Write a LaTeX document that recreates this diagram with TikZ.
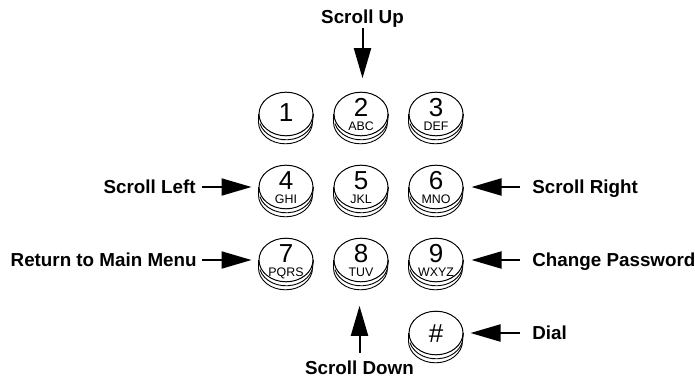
\documentclass[tikz,border=0pt]{standalone}
\usepackage{fontspec}
\setmainfont{Liberation Sans}
\usetikzlibrary{shapes.geometric,arrows.meta,positioning}

\tikzset{
  keycap/.style={ellipse, draw, line width=0.5pt, minimum width=27pt, minimum height=21.8pt, inner sep=0pt},
  keyrim/.style={line width=0.45pt},
  keynum/.style={inner sep=0pt, text height=9.2pt, text depth=0pt, font=\fontsize{13}{13}\selectfont},
  keyabc/.style={inner sep=0pt, text height=4.4pt, text depth=0pt, font=\fontsize{6.2}{6.2}\selectfont},
  callout/.style={inner sep=0pt, text height=6.7pt, text depth=0pt, font=\fontsize{9.4}{11}\selectfont\bfseries},
  pointer/.style={line width=1pt, -{Triangle[length=15pt,width=8.5pt]}}
}

\begin{document}
\begin{tikzpicture}[x=0.5pt,y=0.5pt]
\useasboundingbox (0,0) rectangle (695,377);

% keypad
\node[keycap] (k1) at (286,263) {};
\node[keynum] (n1) at ([yshift=1pt]k1.center) {1};
\foreach \k/\x/\y/\abc in {2/361/263/ABC, 3/436/263/DEF, 4/286/190/GHI, 5/361/190/JKL,
    6/436/190/MNO, 7/286/117/PQRS, 8/361/117/TUV, 9/436/117/WXYZ}{
  \node[keycap] (k\k) at (\x,\y) {};
  \node[keynum] (n\k) at ([yshift=3.6pt]k\k.center) {\k};
  \node[keyabc] (a\k) at ([yshift=-6pt]k\k.center) {\abc};
}
\node[keycap] (kh) at (436,44) {};
\node[keynum] (nh) at (kh.center) {\#};

% rims under the keys
\foreach \k in {1,...,9,h}{
  \draw[keyrim] (k\k.west) -- ++(0,-4pt) arc[start angle=180, end angle=360, x radius=13.5pt, y radius=10.9pt] -- (k\k.east);
  \draw[keyrim] ([yshift=-2pt]k\k.center) ++(195:13.5pt and 10.9pt) arc[start angle=195, end angle=345, x radius=13.5pt, y radius=10.9pt];
}

% labels
\node[callout] (su) at (362.5,360.3) {Scroll Up};
\node[callout] (sd) at (359.5,9.5) {Scroll Down};
\node[callout, anchor=east] (sl) at (196,190) {Scroll Left};
\node[callout, anchor=east] (rm) at (197,117) {Return to Main Menu};
\node[callout, anchor=west] (sr) at (532,190) {Scroll Right};
\node[callout, anchor=west] (cp) at (532,117) {Change Password};
\node[callout, anchor=west] (dl) at (532,44) {Dial};

% arrows
\draw[pointer, shorten <=2.3pt, shorten >=6.75pt] (su.south) -- (su.south |- k2.north);
\draw[pointer, shorten <=3.9pt, shorten >=11.75pt] (sd.north) -- (sd.north |- k8.south);
\draw[pointer, shorten <=3pt, shorten >=3.5pt] (sl.east) -- (sl.east -| k4.west);
\draw[pointer, shorten <=2.5pt, shorten >=3.5pt] (rm.east) -- (rm.east -| k7.west);
\draw[pointer, shorten <=6pt, shorten >=4pt] (sr.west) -- (sr.west -| k6.east);
\draw[pointer, shorten <=6pt, shorten >=4pt] (cp.west) -- (cp.west -| k9.east);
\draw[pointer, shorten <=6pt, shorten >=3.5pt] (dl.west) -- (dl.west -| kh.east);

\end{tikzpicture}
\end{document}
